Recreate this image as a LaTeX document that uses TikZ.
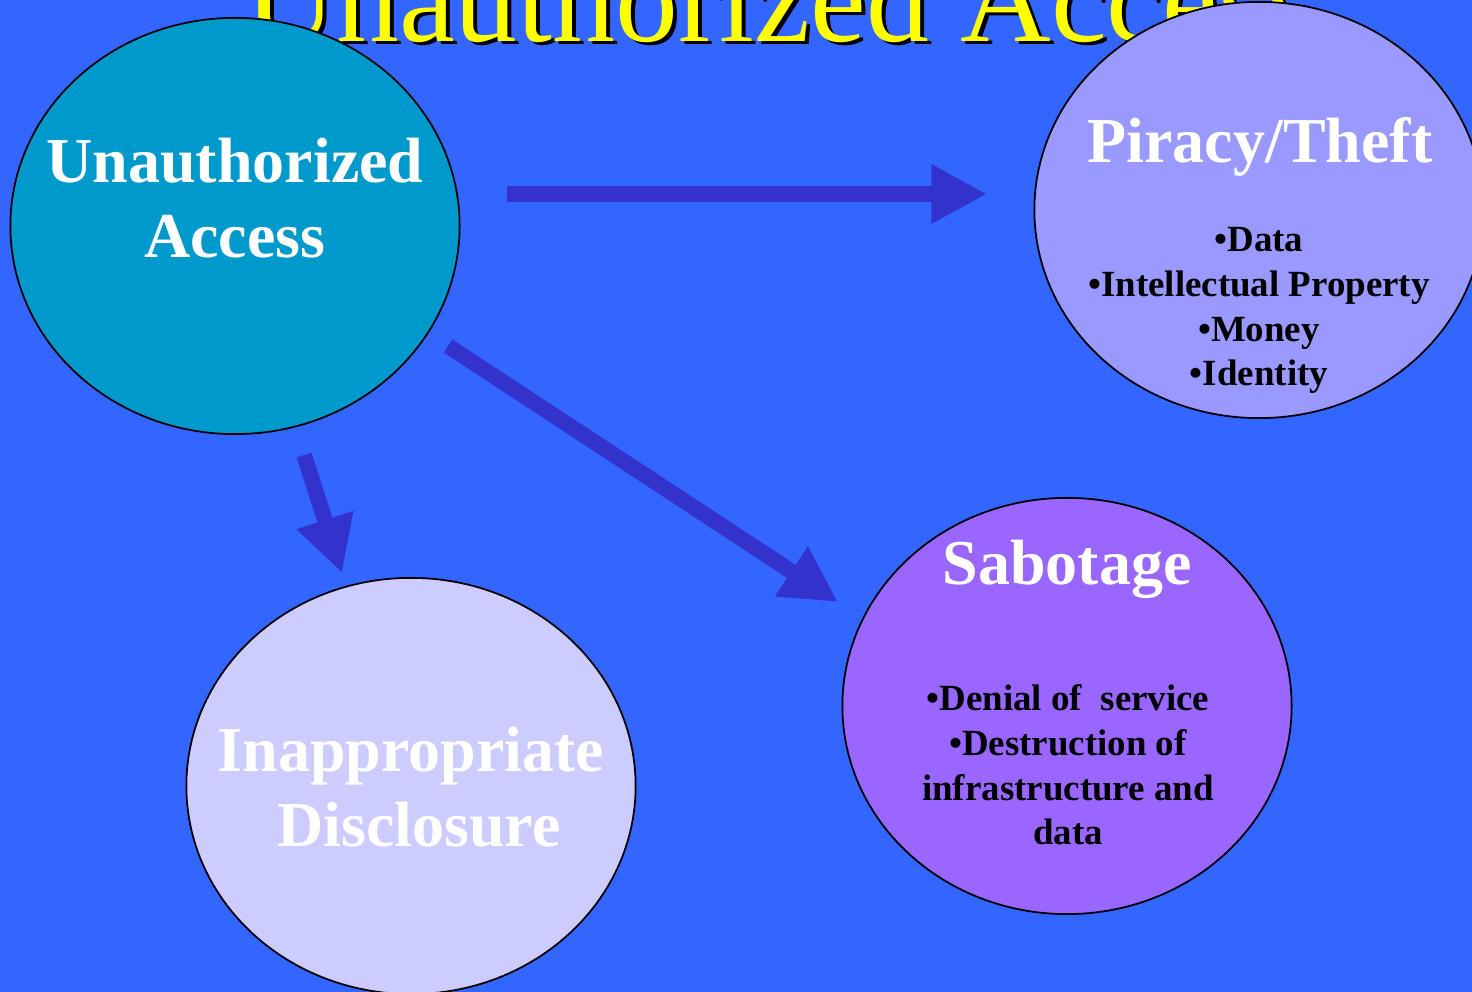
\documentclass[tikz,border=0pt]{standalone}
\usepackage{fontspec}
\setmainfont{Liberation Serif}
\definecolor{bgblue}{RGB}{51, 102, 255}
\definecolor{accessteal}{RGB}{0, 153, 204}
\definecolor{theftlilac}{RGB}{153, 153, 255}
\definecolor{sabviolet}{RGB}{153, 102, 255}
\definecolor{discpale}{RGB}{204, 204, 255}
\definecolor{arrowblue}{RGB}{51, 51, 204}
\definecolor{titleyellow}{RGB}{255, 255, 0}
\usetikzlibrary{shapes.geometric, arrows.meta, positioning, calc}

\tikzset{
  bubble/.style={draw=black, line width=0.5pt, ellipse, inner sep=0pt, minimum width=4.49cm, minimum height=4.16cm},
  headtext/.style={text=white, font=\fontsize{18.2}{21.6}\selectfont\bfseries, align=center, anchor=base, inner sep=0pt},
  itemtext/.style={text=black, font=\fontsize{10.5}{12.75}\selectfont\bfseries, align=center, anchor=base, inner sep=0pt},
  titletext/.style={font=\fontsize{35.7}{40}\selectfont, anchor=base west, inner sep=0pt},
  bigarrow/.style={arrowblue, line width=0.157cm, -{Triangle[length=0.557cm, width=0.557cm]}},
}

\begin{document}
\begin{tikzpicture}[x=0.01cm, y=-0.01cm]
  \useasboundingbox (0,0) rectangle (1472,992);
  \clip (0,0) rectangle (1472,992);
  \fill[bgblue] (0,0) rectangle (1472,992);

  % Title, cut off at the top
  \node[titletext, text=black] (title-shadow) at (249,45) {Unauthorized Access};
  \node[titletext, text=titleyellow] (title) at (245,42) {Unauthorized Access};

  % Ellipses
  \node[bubble, fill=accessteal] (access) at (235,226) {};
  \node[bubble, fill=theftlilac] (theft) at (1259,210) {};
  \node[bubble, fill=sabviolet] (sabotage) at (1067,706) {};
  \node[bubble, fill=discpale] (disclosure) at (411,786) {};

  % Texts (base = last line)
  \node[headtext] (access-text) at (235,258) {Unauthorized\\Access};
  \node[headtext] (theft-title) at (1260,163) {Piracy/Theft};
  \node[itemtext] (theft-items) at (1259,386) {•Data\\•Intellectual Property\\•Money\\•Identity};
  \node[headtext] (sabotage-title) at (1067,585) {Sabotage};
  \node[itemtext] (sabotage-items) at (1068,845) {•Denial of \ service\\•Destruction of\\infrastructure and\\data};
  \node[headtext] (disclosure-text) at (411,847) {Inappropriate\\\ Disclosure};

  % Arrows
  \coordinate (access-out1) at (507,194);
  \coordinate (theft-in) at (987,194);
  \coordinate (access-out2) at (448,346);
  \coordinate (sabotage-in) at (838,602);
  \coordinate (access-out3) at (304,455);
  \coordinate (disclosure-in) at (342,573);
  \draw[bigarrow] (access-out1) -- (theft-in);
  \draw[bigarrow] (access-out2) -- (sabotage-in);
  \draw[bigarrow] (access-out3) -- (disclosure-in);
\end{tikzpicture}
\end{document}
